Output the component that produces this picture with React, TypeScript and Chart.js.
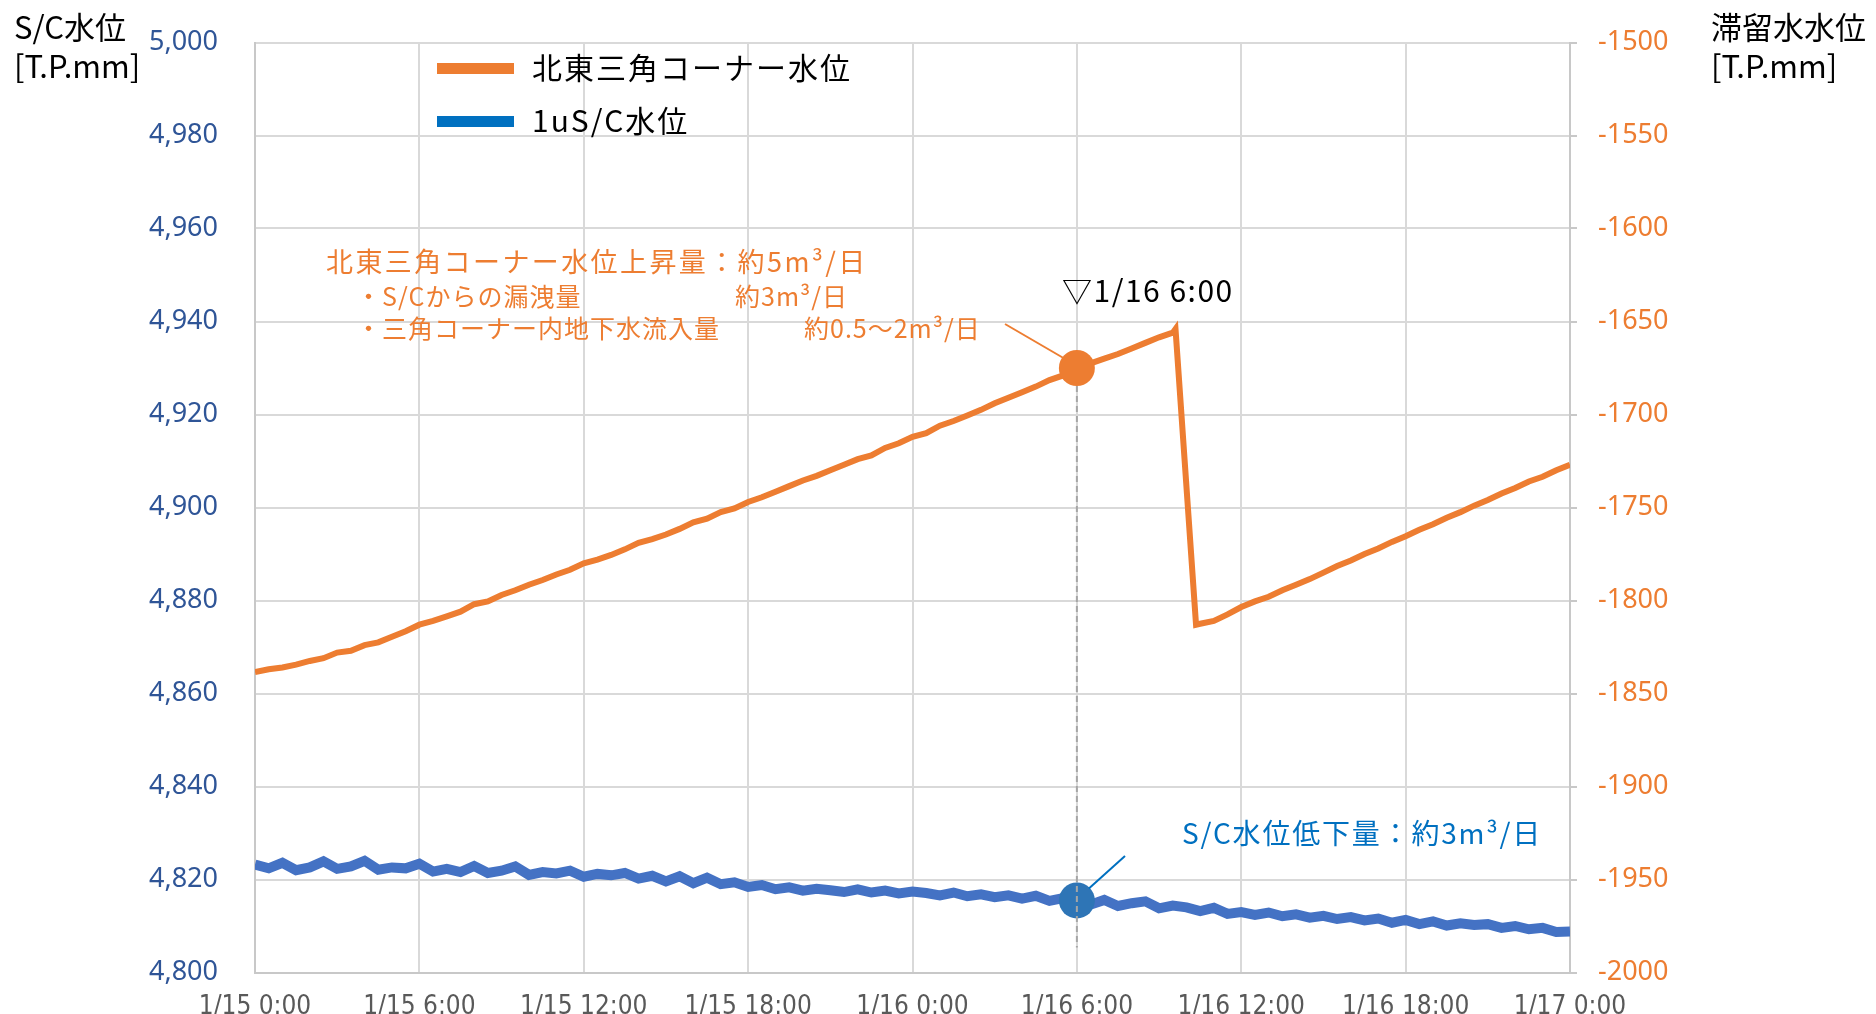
import React, { useEffect, useRef } from "react";
import { Chart, registerables } from "chart.js";

Chart.register(...registerables);

// ---- Data ----
const xTickLabels = [
  "1/15 0:00", "1/15 6:00", "1/15 12:00", "1/15 18:00",
  "1/16 0:00", "1/16 6:00", "1/16 12:00", "1/16 18:00", "1/17 0:00",
];

// Orange series: elapsed hours from 1/15 0:00 and right-axis level [T.P.mm]
const orangeHours = [
  0, 0.5, 1, 1.5, 2, 2.5, 3, 3.5, 4, 4.5, 5, 5.5, 6, 6.5, 7, 7.5, 8, 8.5, 9, 9.5,
  10, 10.5, 11, 11.5, 12, 12.5, 13, 13.5, 14, 14.5, 15, 15.5, 16, 16.5, 17, 17.5,
  18, 18.5, 19, 19.5, 20, 20.5, 21, 21.5, 22, 22.5, 23, 23.5, 24, 24.5, 25, 25.5,
  26, 26.5, 27, 27.5, 28, 28.5, 29, 29.5, 30, 30.5, 31, 31.5, 32, 32.5, 33, 33.5,
  33.6, 34.35, 34.5, 35, 35.5, 36, 36.5, 37, 37.5, 38, 38.5, 39, 39.5, 40, 40.5,
  41, 41.5, 42, 42.5, 43, 43.5, 44, 44.5, 45, 45.5, 46, 46.5, 47, 47.5, 48,
];
const orangeValues = [
  -1838.5, -1837, -1836, -1834.5, -1832.5, -1831, -1828, -1827, -1824, -1822.5,
  -1819.5, -1816.5, -1813, -1811, -1808.5, -1806, -1802, -1800.5, -1797, -1794.5,
  -1791.5, -1789, -1786, -1783.5, -1780, -1778, -1775.5, -1772.5, -1769, -1767,
  -1764.5, -1761.5, -1758, -1756, -1752.5, -1750.5, -1747, -1744.5, -1741.5, -1738.5,
  -1735.5, -1733, -1730, -1727, -1724, -1722, -1718, -1715.5, -1712, -1710,
  -1706, -1703.5, -1700.5, -1697.5, -1694, -1691, -1688, -1685, -1681.5, -1679,
  -1675, -1672.5, -1670, -1667.5, -1664.5, -1661.5, -1658.5, -1656, -1654, -1813,
  -1812.5, -1811, -1807.5, -1803.5, -1800.5, -1798, -1794.5, -1791.5, -1788.5, -1785,
  -1781.5, -1778.5, -1775, -1772, -1768.5, -1765.5, -1762, -1759, -1755.5, -1752.5,
  -1749, -1746, -1742.5, -1739.5, -1736, -1733.5, -1730, -1727,
];

// Blue series: S/C level [T.P.mm], one reading every half hour from 1/15 0:00
const blueStepHours = 0.5;
const blueValues = [
  4823.2, 4822.4, 4823.6, 4822.0, 4822.6, 4823.9, 4822.3, 4822.8, 4824.0, 4822.1,
  4822.6, 4822.4, 4823.4, 4821.7, 4822.3, 4821.6, 4822.9, 4821.4, 4821.9, 4822.8,
  4821.0, 4821.6, 4821.3, 4821.9, 4820.6, 4821.2, 4820.9, 4821.4, 4820.2, 4820.8,
  4819.6, 4820.7, 4819.2, 4820.4, 4819.0, 4819.4, 4818.4, 4818.8, 4817.9, 4818.3,
  4817.6, 4818.0, 4817.7, 4817.3, 4817.9, 4817.2, 4817.6, 4817.0, 4817.4, 4817.1,
  4816.6, 4817.2, 4816.4, 4816.8, 4816.2, 4816.6, 4815.9, 4816.5, 4815.4, 4816.0,
  4815.4, 4814.6, 4815.6, 4814.3, 4814.9, 4815.3, 4813.8, 4814.4, 4814.0, 4813.2,
  4813.9, 4812.6, 4813.0, 4812.4, 4812.9, 4812.1, 4812.5, 4811.8, 4812.2, 4811.5,
  4811.9, 4811.2, 4811.6, 4810.7, 4811.3, 4810.4, 4811.0, 4810.1, 4810.6, 4810.2,
  4810.4, 4809.6, 4810.0, 4809.3, 4809.6, 4808.7, 4808.8,
];

// Highlighted moment: 1/16 6:00
const markerHour = 30;
const markerOrange = -1675;
const markerBlue = 4815.5;

const seriesNames = ["北東三角コーナー水位", "1uS/C水位"];
const annotationLines = [
  "北東三角コーナー水位上昇量：約5m³/日",
  "・S/Cからの漏洩量",
  "約3m³/日",
  "・三角コーナー内地下水流入量",
  "約0.5～2m³/日",
];
const markerLabel = "▽1/16 6:00";
const blueNote = "S/C水位低下量：約3m³/日";

const ORANGE = "#ED7D31";
const BLUE = "#4472C4";
const BLUE_DOT = "#2E75B6";
const BLUE_TEXT = "#0070C0";
const JP = "'Noto Sans CJK JP', 'Noto Sans', sans-serif";

const overlayPlugin = {
  id: "overlay",
  afterDatasetsDraw(chart: any) {
    const ctx = chart.ctx as CanvasRenderingContext2D;
    const xs = chart.scales.x;
    const yl = chart.scales.y;
    const yr = chart.scales.y2;
    const mx = xs.getPixelForValue(markerHour);
    const oy = yr.getPixelForValue(markerOrange);
    const by = yl.getPixelForValue(markerBlue);
    ctx.save();
    ctx.strokeStyle = "#A6A6A6";
    ctx.lineWidth = 2;
    ctx.setLineDash([6, 4]);
    ctx.beginPath();
    ctx.moveTo(mx, oy + 18);
    ctx.lineTo(mx, by + 47);
    ctx.stroke();
    ctx.setLineDash([]);
    ctx.strokeStyle = ORANGE;
    ctx.lineWidth = 2;
    ctx.beginPath();
    ctx.moveTo(1005, 324);
    ctx.lineTo(mx - 10, oy - 8);
    ctx.stroke();
    ctx.strokeStyle = BLUE_TEXT;
    ctx.beginPath();
    ctx.moveTo(mx + 12, by - 12);
    ctx.lineTo(1125, 856);
    ctx.stroke();
    ctx.restore();
  },
  afterDraw(chart: any) {
    const ctx = chart.ctx as CanvasRenderingContext2D;
    ctx.save();
    ctx.textBaseline = "middle";
    ctx.textAlign = "left";
    ctx.fillStyle = "#000000";
    ctx.font = `31px ${JP}`;
    ctx.fillText("S/C水位", 14, 27);
    ctx.fillText("[T.P.mm]", 14, 66);
    ctx.fillText("滞留水水位", 1711, 27);
    ctx.fillText("[T.P.mm]", 1711, 66);
    ctx.fillStyle = ORANGE;
    ctx.fillRect(437, 63, 77, 11);
    ctx.fillStyle = BLUE_TEXT;
    ctx.fillRect(437, 116, 77, 11);
    ctx.fillStyle = "#000000";
    ctx.font = `30px ${JP}`;
    (ctx as any).letterSpacing = "2px";
    ctx.fillText(seriesNames[0], 532, 68);
    ctx.fillText(seriesNames[1], 532, 121);
    ctx.fillStyle = ORANGE;
    ctx.font = `27px ${JP}`;
    (ctx as any).letterSpacing = "2.4px";
    ctx.fillText(annotationLines[0], 326, 262);
    (ctx as any).letterSpacing = "1px";
    ctx.font = `25px ${JP}`;
    ctx.fillText(annotationLines[1], 356, 296);
    ctx.fillText(annotationLines[2], 735, 296);
    ctx.fillText(annotationLines[3], 356, 328);
    ctx.fillText(annotationLines[4], 804, 328);
    (ctx as any).letterSpacing = "1.5px";
    ctx.fillStyle = "#000000";
    ctx.font = `30px ${JP}`;
    ctx.fillText(markerLabel, 1062, 291);
    ctx.fillStyle = BLUE_TEXT;
    ctx.font = `28px ${JP}`;
    (ctx as any).letterSpacing = "1.8px";
    ctx.fillText(blueNote, 1182, 833);
    ctx.restore();
  },
};

export default function App() {
  const ref = useRef<HTMLCanvasElement | null>(null);
  useEffect(() => {
    if (!ref.current) return;
    const orangeData = orangeHours.map((h, i) => ({ x: h, y: orangeValues[i] }));
    const blueData = blueValues.map((v, i) => ({ x: i * blueStepHours, y: v }));
    const chart = new Chart(ref.current, {
      type: "line",
      data: {
        datasets: [
          {
            label: "marker-orange",
            data: [{ x: markerHour, y: markerOrange }],
            yAxisID: "y2",
            showLine: false,
            pointRadius: 18,
            pointBackgroundColor: ORANGE,
            pointBorderWidth: 0,
            order: 0,
          },
          {
            label: "marker-blue",
            data: [{ x: markerHour, y: markerBlue }],
            yAxisID: "y",
            showLine: false,
            pointRadius: 18,
            pointBackgroundColor: BLUE_DOT,
            pointBorderWidth: 0,
            order: 0,
          },
          {
            label: seriesNames[0],
            data: orangeData,
            yAxisID: "y2",
            borderColor: ORANGE,
            borderWidth: 6,
            pointRadius: 0,
            tension: 0,
            order: 2,
          },
          {
            label: seriesNames[1],
            data: blueData,
            yAxisID: "y",
            borderColor: BLUE,
            borderWidth: 10,
            pointRadius: 0,
            tension: 0,
            order: 3,
          },
        ],
      },
      options: {
        responsive: false,
        animation: false,
        layout: { padding: { top: 42.5, left: 0, right: 0, bottom: 0 } },
        plugins: { legend: { display: false }, tooltip: { enabled: false } },
        scales: {
          x: {
            type: "linear",
            min: 0,
            max: 48,
            grid: { color: "#D9D9D9", lineWidth: 2, drawTicks: false },
            border: { color: "#C8C8C8", width: 2 },
            ticks: {
              stepSize: 6,
              autoSkip: false,
              maxRotation: 0,
              padding: 19,
              color: "#595959",
              font: { family: "'Liberation Sans Narrow', 'DejaVu Sans Condensed', 'Noto Sans'", size: 26 },
              callback: (v: any) => xTickLabels[Math.round(Number(v) / 6)] ?? "",
            },
            afterFit: (s: any) => { s.height = 41.5; s.paddingLeft = 0; s.paddingRight = 0; },
          },
          y: {
            position: "left",
            min: 4800,
            max: 5000,
            grid: { color: "#D9D9D9", lineWidth: 2, drawTicks: false },
            border: { color: "#C8C8C8", width: 2 },
            ticks: {
              stepSize: 20,
              padding: 37,
              color: "#2F5597",
              font: { family: "'Noto Sans', sans-serif", size: 27 },
              callback: (v: any) => Number(v).toLocaleString("en-US"),
            },
            afterFit: (s: any) => { s.width = 255; s.paddingTop = 0; s.paddingBottom = 0; },
          },
          y2: {
            position: "right",
            min: -2000,
            max: -1500,
            grid: { drawOnChartArea: false, color: "#C8C8C8", lineWidth: 2, tickLength: 7 },
            border: { color: "#C8C8C8", width: 2 },
            ticks: {
              stepSize: 50,
              padding: 21,
              color: ORANGE,
              font: { family: "'Noto Sans', sans-serif", size: 27 },
              callback: (v: any) => String(v),
            },
            afterFit: (s: any) => { s.width = 306; s.paddingTop = 0; s.paddingBottom = 0; },
          },
        },
      },
      plugins: [overlayPlugin],
    });
    return () => chart.destroy();
  }, []);
  return (
    <div style={{ position: "absolute", left: 0, top: 0, width: 1876, height: 1014, background: "#fff" }}>
      <canvas ref={ref} width={1876} height={1014} style={{ width: 1876, height: 1014, display: "block" }} />
    </div>
  );
}
